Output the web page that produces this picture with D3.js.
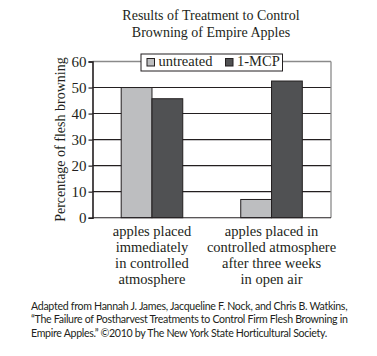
<!DOCTYPE html>
<html><head><meta charset="utf-8">
<script src="https://cdn.jsdelivr.net/npm/d3@7"></script>
<style>body{margin:0;background:#fff;} svg{display:block;}</style>
</head><body>
<svg id="c" width="377" height="356"></svg>
<script>
const categories = [
  ["apples placed", "immediately", "in controlled", "atmosphere"],
  ["apples placed in", "controlled atmosphere", "after three weeks", "in open air"]
];
const seriesNames = ["untreated", "1-MCP"];
const untreated = [50, 7];
const mcp = [45.7, 52.5];
const yTicks = [0, 10, 20, 30, 40, 50, 60];
const titleLines = ["Results of Treatment to Control", "Browning of Empire Apples"];
const yLabel = "Percentage of flesh browning";
const sourceLines = [
  "Adapted from Hannah J. James, Jacqueline F. Nock, and Chris B. Watkins,",
  "\u201CThe Failure of Postharvest Treatments to Control Firm Flesh Browning in",
  "Empire Apples.\u201D \u00A92010 by The New York State Horticultural Society."
];
const colors = ["#bdbec0", "#505153"];

const svg = d3.select("#c");
const serif = "'Liberation Serif', 'Times New Roman', serif";
const sans = "Lato, 'Open Sans', sans-serif";
const L = 92.5, R = 331, T = 61.5, B = 217.7;

const y = d3.scaleLinear().domain([0, 60]).range([B, T]);
const x0 = d3.scaleBand().domain([0, 1]).range([L, R]).paddingInner(0.485).paddingOuter(0.24);
const x1 = d3.scaleBand().domain([0, 1]).range([0, x0.bandwidth()]);

// title
svg.append("g").selectAll("text").data(titleLines).join("text")
  .attr("x", 211).attr("y", (d, i) => 20 + i * 16.5)
  .attr("text-anchor", "middle").attr("font-family", serif).attr("font-size", 14)
  .attr("fill", "#231f20").text(d => d);

// gridlines
svg.append("g").selectAll("line").data(yTicks.filter(t => t > 0 && t < 60)).join("line")
  .attr("x1", L).attr("x2", R).attr("y1", d => y(d)).attr("y2", d => y(d))
  .attr("stroke", "#231f20").attr("stroke-width", 1.1);
// top & right border
svg.append("line").attr("x1", L).attr("x2", R).attr("y1", y(60)).attr("y2", y(60))
  .attr("stroke", "#8a8a8a").attr("stroke-width", 1.3);
svg.append("line").attr("x1", R).attr("x2", R).attr("y1", y(60)).attr("y2", y(0))
  .attr("stroke", "#8a8a8a").attr("stroke-width", 1.3);

// bars
const g = svg.append("g");
const rows = [untreated, mcp];
rows.forEach((vals, s) => {
  g.selectAll(null).data(vals).join("rect")
    .attr("x", (d, i) => x0(i) + x1(s))
    .attr("y", d => y(d))
    .attr("width", x1.bandwidth())
    .attr("height", d => y(0) - y(d))
    .attr("fill", colors[s]).attr("stroke", "#231f20").attr("stroke-width", 1);
});

// bottom line
svg.append("line").attr("x1", L).attr("x2", R).attr("y1", y(0)).attr("y2", y(0))
  .attr("stroke", "#231f20").attr("stroke-width", 1.1);

// y axis
const yAxis = svg.append("g").attr("transform", `translate(${L},0)`)
  .call(d3.axisLeft(y).tickValues(yTicks).tickSize(4).tickPadding(2));
yAxis.select(".domain").attr("stroke", "#231f20").attr("stroke-width", 1.6);
yAxis.selectAll(".tick line").attr("stroke", "#231f20").attr("stroke-width", 1.2);
yAxis.selectAll(".tick text").attr("font-family", serif).attr("font-size", 15).attr("fill", "#231f20");

// y label
svg.append("text").attr("transform", `translate(64.5,${(T + B) / 2 + 0}) rotate(-90)`)
  .attr("text-anchor", "middle").attr("font-family", serif).attr("font-size", 14)
  .attr("fill", "#231f20").text(yLabel);

// legend
const lg = svg.append("g");
lg.append("rect").attr("x", 141).attr("y", 54).attr("width", 141.5).attr("height", 17)
  .attr("fill", "#fff").attr("stroke", "#231f20").attr("stroke-width", 1);
const legX = [147, 225.5];
seriesNames.forEach((n, i) => {
  lg.append("rect").attr("x", legX[i]).attr("y", 58.5).attr("width", 7.5).attr("height", 7.5)
    .attr("fill", colors[i]).attr("stroke", "#231f20").attr("stroke-width", 1);
  lg.append("text").attr("x", legX[i] + 11.5).attr("y", 66).attr("font-family", serif)
    .attr("font-size", 14.5).attr("fill", "#231f20").text(n);
});

// category labels
categories.forEach((lines, i) => {
  svg.append("g").selectAll("text").data(lines).join("text")
    .attr("x", x0(i) + x0.bandwidth() / 2)
    .attr("y", (d, j) => 235.5 + j * 16)
    .attr("text-anchor", "middle").attr("font-family", serif).attr("font-size", 14.5)
    .attr("fill", "#231f20").text(d => d);
});

// source
svg.append("g").selectAll("text").data(sourceLines).join("text")
  .attr("x", 31).attr("y", (d, i) => 310 + i * 13.4)
  .attr("font-family", sans).attr("font-size", 10.6).attr("letter-spacing", -0.3)
  .attr("fill", "#231f20")
  .text(d => d);
</script>
</body></html>
